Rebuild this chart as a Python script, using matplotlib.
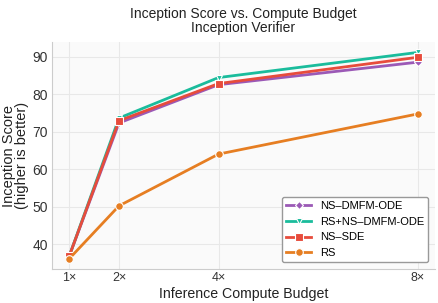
import matplotlib
matplotlib.use("Agg")
import matplotlib.pyplot as plt

plt.rcParams['font.family'] = ['Liberation Sans', 'DejaVu Sans']

budget = [1, 2, 4, 8]
tick_labels = ["1×", "2×", "4×", "8×"]

ns_dmfm_ode = [36.8, 72.3, 82.5, 88.5]
rs_ns_dmfm_ode = [36.8, 73.6, 84.4, 91.1]
ns_sde = [36.8, 72.9, 82.8, 89.8]
rs = [36.1, 50.2, 64.0, 74.7]

series = [
    ("NS\u2013DMFM-ODE", ns_dmfm_ode, "#9b59b6", "D", 4),
    ("RS+NS\u2013DMFM-ODE", rs_ns_dmfm_ode, "#1abc9c", "v", 5),
    ("NS\u2013SDE", ns_sde, "#e74c3c", "s", 6),
    ("RS", rs, "#e67e22", "o", 5.5),
]

fig = plt.figure(figsize=(4.39, 3.03), dpi=100)
ax = fig.add_axes([0.118, 0.112, 0.873, 0.749])
ax.set_facecolor("#fafafa")

for name, vals, col, mk, ms in series:
    ax.plot(budget, vals, color=col, marker=mk, markersize=ms, lw=2,
            markeredgecolor="white", markeredgewidth=0.8, label=name)

ax.set_xticks(budget)
ax.set_xticklabels(tick_labels)
ax.set_yticks([40, 50, 60, 70, 80, 90])
ax.tick_params(axis="x", length=0, labelsize=9, colors="#333333", pad=2)
ax.tick_params(axis="y", length=0, labelsize=10, colors="#333333", pad=3)
ax.grid(True, color="#e8e8e8", lw=0.8)
ax.set_axisbelow(True)
for s in ["top", "right"]:
    ax.spines[s].set_visible(False)
for s in ["left", "bottom"]:
    ax.spines[s].set_color("#cccccc")

ax.set_xlabel("Inference Compute Budget", fontsize=10.2, color="#222222", labelpad=2)
ax.set_ylabel("Inception Score\n(higher is better)", fontsize=10.5, color="#222222",
              linespacing=0.95, labelpad=2)
ax.set_title("Inception Score vs. Compute Budget\nInception Verifier", fontsize=10,
             color="#222222", linespacing=1.05, pad=7)

leg = ax.legend(loc="lower right", fontsize=8, frameon=True, fancybox=True,
                edgecolor="#999999", framealpha=1, handlelength=2.2,
                borderaxespad=0.6, labelspacing=0.5)

fig.savefig("out.png", dpi=100)
